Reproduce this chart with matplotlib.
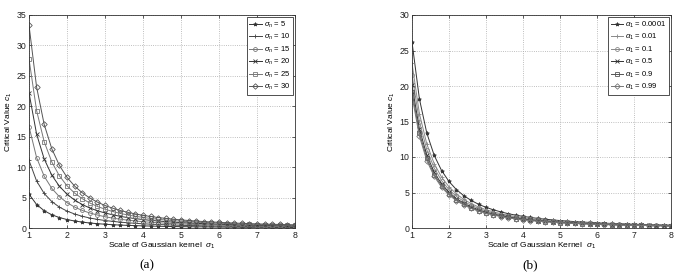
import matplotlib
matplotlib.use("Agg")
import matplotlib.pyplot as plt

plt.rcParams['font.family'] = ['Liberation Sans', 'DejaVu Sans']
plt.rcParams['mathtext.fontset'] = 'custom'
plt.rcParams['mathtext.it'] = 'Liberation Sans:italic'
plt.rcParams['mathtext.rm'] = 'Liberation Sans'

# ---- data ----
sigma1 = [1.0, 1.2, 1.4, 1.6, 1.8, 2.0, 2.2, 2.4, 2.6, 2.8, 3.0, 3.2, 3.4, 3.6,
          3.8, 4.0, 4.2, 4.4, 4.6, 4.8, 5.0, 5.2, 5.4, 5.6, 5.8, 6.0, 6.2, 6.4,
          6.6, 6.8, 7.0, 7.2, 7.4, 7.6, 7.8, 8.0]

labels_a = ['5', '10', '15', '20', '25', '30']
a_5 = [5.56, 3.86, 2.84, 2.17, 1.72, 1.39, 1.15, 0.97, 0.82, 0.71, 0.62, 0.54, 0.48, 0.43,
       0.39, 0.35, 0.32, 0.29, 0.26, 0.24, 0.22, 0.21, 0.19, 0.18, 0.17, 0.15, 0.14, 0.14,
       0.13, 0.12, 0.11, 0.11, 0.10, 0.10, 0.09, 0.09]
a_10 = [11.11, 7.72, 5.67, 4.34, 3.43, 2.78, 2.30, 1.93, 1.64, 1.42, 1.23, 1.09, 0.96, 0.86,
        0.77, 0.69, 0.63, 0.57, 0.53, 0.48, 0.44, 0.41, 0.38, 0.35, 0.33, 0.31, 0.29, 0.27,
        0.26, 0.24, 0.23, 0.21, 0.20, 0.19, 0.18, 0.17]
a_15 = [16.67, 11.57, 8.50, 6.51, 5.14, 4.17, 3.44, 2.89, 2.47, 2.13, 1.85, 1.63, 1.44, 1.29,
        1.15, 1.04, 0.94, 0.86, 0.79, 0.72, 0.67, 0.62, 0.57, 0.53, 0.50, 0.46, 0.43, 0.41,
        0.38, 0.36, 0.34, 0.32, 0.30, 0.29, 0.27, 0.26]
a_20 = [22.22, 15.43, 11.34, 8.68, 6.86, 5.56, 4.59, 3.86, 3.29, 2.83, 2.47, 2.17, 1.92, 1.71,
        1.54, 1.39, 1.26, 1.15, 1.05, 0.96, 0.89, 0.82, 0.76, 0.71, 0.66, 0.62, 0.58, 0.54,
        0.51, 0.48, 0.45, 0.43, 0.41, 0.38, 0.37, 0.35]
a_25 = [27.78, 19.29, 14.17, 10.85, 8.57, 6.94, 5.74, 4.82, 4.11, 3.54, 3.09, 2.71, 2.40, 2.14,
        1.92, 1.74, 1.57, 1.43, 1.31, 1.21, 1.11, 1.03, 0.95, 0.89, 0.83, 0.77, 0.72, 0.68,
        0.64, 0.60, 0.57, 0.54, 0.51, 0.48, 0.46, 0.43]
a_30 = [33.33, 23.15, 17.01, 13.02, 10.29, 8.33, 6.89, 5.79, 4.93, 4.25, 3.70, 3.26, 2.88, 2.57,
        2.31, 2.08, 1.89, 1.72, 1.58, 1.45, 1.33, 1.23, 1.14, 1.06, 0.99, 0.93, 0.87, 0.81,
        0.77, 0.72, 0.68, 0.64, 0.61, 0.58, 0.55, 0.52]

labels_b = ['0.0001', '0.01', '0.1', '0.5', '0.9', '0.99']
b_0001 = [26.2, 18.19, 13.37, 10.23, 8.09, 6.55, 5.41, 4.55, 3.88, 3.34, 2.91, 2.56, 2.27, 2.02,
          1.81, 1.64, 1.49, 1.35, 1.24, 1.14, 1.05, 0.97, 0.90, 0.84, 0.78, 0.73, 0.68, 0.64,
          0.60, 0.57, 0.53, 0.51, 0.48, 0.45, 0.43, 0.41]
b_01 = [23.2, 16.11, 11.84, 9.06, 7.16, 5.80, 4.79, 4.03, 3.43, 2.96, 2.58, 2.27, 2.01, 1.79,
        1.61, 1.45, 1.32, 1.20, 1.10, 1.01, 0.93, 0.86, 0.80, 0.74, 0.69, 0.64, 0.60, 0.57,
        0.53, 0.50, 0.47, 0.45, 0.42, 0.40, 0.38, 0.36]
b_1 = [21.6, 15.00, 11.02, 8.44, 6.67, 5.40, 4.46, 3.75, 3.19, 2.76, 2.40, 2.11, 1.87, 1.67,
       1.50, 1.35, 1.22, 1.12, 1.02, 0.94, 0.86, 0.80, 0.74, 0.69, 0.64, 0.60, 0.56, 0.53,
       0.50, 0.47, 0.44, 0.42, 0.40, 0.37, 0.35, 0.34]
b_5 = [20.1, 13.96, 10.26, 7.85, 6.20, 5.03, 4.15, 3.49, 2.97, 2.56, 2.23, 1.96, 1.74, 1.55,
       1.39, 1.26, 1.14, 1.04, 0.95, 0.87, 0.80, 0.74, 0.69, 0.64, 0.60, 0.56, 0.52, 0.49,
       0.46, 0.43, 0.41, 0.39, 0.37, 0.35, 0.33, 0.31]
b_9 = [19.2, 13.33, 9.80, 7.50, 5.93, 4.80, 3.97, 3.33, 2.84, 2.45, 2.13, 1.88, 1.66, 1.48,
       1.33, 1.20, 1.09, 0.99, 0.91, 0.83, 0.77, 0.71, 0.66, 0.61, 0.57, 0.53, 0.50, 0.47,
       0.44, 0.41, 0.39, 0.37, 0.35, 0.33, 0.31, 0.30]
b_99 = [18.6, 12.92, 9.49, 7.27, 5.74, 4.65, 3.84, 3.23, 2.75, 2.37, 2.07, 1.82, 1.61, 1.44,
        1.29, 1.16, 1.05, 0.96, 0.88, 0.81, 0.74, 0.69, 0.64, 0.59, 0.55, 0.52, 0.48, 0.45,
        0.43, 0.40, 0.38, 0.36, 0.34, 0.32, 0.31, 0.29]

xticks = [1, 2, 3, 4, 5, 6, 7, 8]
yticks_a = [0, 5, 10, 15, 20, 25, 30, 35]
yticks_b = [0, 5, 10, 15, 20, 25, 30]

series_a = [a_5, a_10, a_15, a_20, a_25, a_30]
series_b = [b_0001, b_01, b_1, b_5, b_9, b_99]

markers = ['*', '+', 'o', 'x', 's', 'D']
colors_a = ['#333333', '#444444', '#777777', '#333333', '#777777', '#555555']
colors_b = ['#333333', '#888888', '#888888', '#333333', '#555555', '#777777']

W, H = 685, 279
fig = plt.figure(figsize=(W / 100, H / 100), dpi=100)
fig.patch.set_facecolor('white')


def style_axes(ax, yticks):
    ax.set_xlim(1, 8)
    ax.set_ylim(yticks[0], yticks[-1])
    ax.set_xticks(xticks)
    ax.set_yticks(yticks)
    ax.tick_params(direction='in', length=2.5, width=0.5, labelsize=6.3, pad=2,
                   top=True, right=True, colors='#222222')
    ax.grid(True, linestyle=':', color='#aaaaaa', linewidth=0.6)
    for s in ax.spines.values():
        s.set_linewidth(0.6)
        s.set_color('#333333')


def style_legend(ax):
    leg = ax.legend(loc='upper right', fontsize=5.5, frameon=True, fancybox=False,
                    borderaxespad=0.25, handlelength=1.6, labelspacing=0.3,
                    borderpad=0.35, handletextpad=0.3, framealpha=1)
    leg.get_frame().set_edgecolor('#333333')
    leg.get_frame().set_linewidth(0.6)


axA = fig.add_axes([29 / W, 1 - 228 / H, (295 - 29) / W, 213 / H])
for vals, lab, m, c in zip(series_a, labels_a, markers, colors_a):
    axA.plot(sigma1, vals, marker=m, color=c, linewidth=0.7, markersize=2.8,
             markerfacecolor='none' if m in ('o', 's', 'D') else c,
             markeredgewidth=0.6, label=r'$\sigma_n$ = ' + lab)
style_axes(axA, yticks_a)
axA.set_xlabel(r'Scale of Gaussian kernel  $\sigma_1$', fontsize=6, labelpad=1)
axA.set_ylabel(r'Critical Value $c_1$', fontsize=6, labelpad=2)
style_legend(axA)

axB = fig.add_axes([412 / W, 1 - 228 / H, (671 - 412) / W, 213 / H])
for vals, lab, m, c in zip(series_b, labels_b, markers, colors_b):
    axB.plot(sigma1, vals, marker=m, color=c, linewidth=0.7, markersize=2.8,
             markerfacecolor='none' if m in ('o', 's', 'D') else c,
             markeredgewidth=0.6, label=r'$\alpha_1$ = ' + lab)
style_axes(axB, yticks_b)
axB.set_xlabel(r'Scale of Gaussian Kernel  $\sigma_1$', fontsize=6, labelpad=1)
axB.set_ylabel(r'Critical Value $c_1$', fontsize=6, labelpad=2)
style_legend(axB)

fig.text(147 / W, 1 - 265 / H, '(a)', ha='center', va='center', fontsize=9.5,
         family='Liberation Serif')
fig.text(530 / W, 1 - 265 / H, '(b)', ha='center', va='center', fontsize=9.5,
         family='Liberation Serif')

fig.savefig('out.png', dpi=100, facecolor='white')
